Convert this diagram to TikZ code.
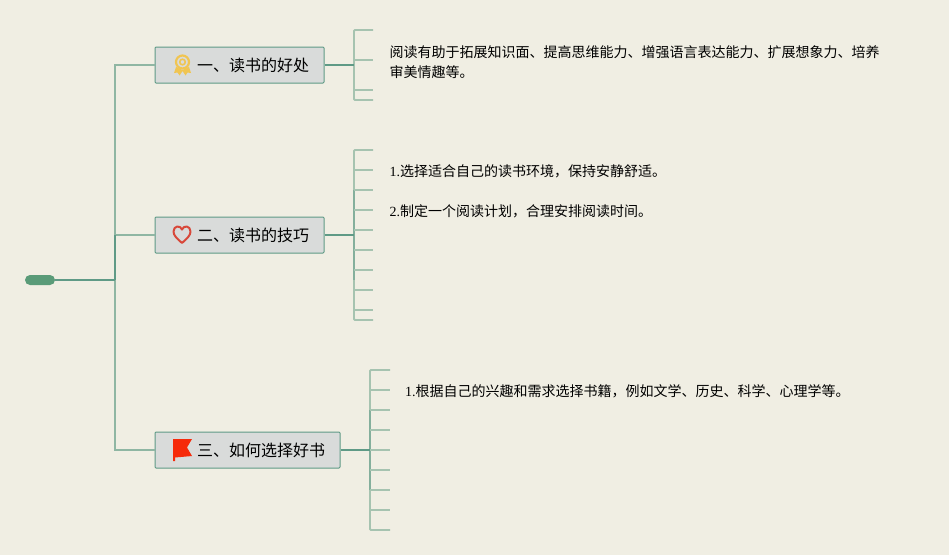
\documentclass[tikz,border=0pt]{standalone}
\usepackage{fontspec}
\setmainfont{Liberation Serif}
\newfontfamily\cjk{Noto Sans CJK SC}
\definecolor{paper}{HTML}{F0EEE3}
\definecolor{rootgreen}{HTML}{5A9B78}
\definecolor{linedark}{HTML}{5F9A86}
\definecolor{linemid}{HTML}{84AF9C}
\definecolor{linelight}{HTML}{A6C3B0}
\definecolor{trunkgreen}{HTML}{8FB6A3}
\definecolor{topicfill}{HTML}{D9DBDA}
\definecolor{medal}{HTML}{F0C552}
\definecolor{heart}{HTML}{D8483A}
\definecolor{flag}{HTML}{F62A0A}
\tikzset{
  topicbox/.style={draw=linedark,line width=1pt,fill=topicfill,rounded corners=1pt,minimum height=36pt,inner xsep=15pt,align=right,font=\fontsize{16}{20}\selectfont\cjk},
  notetext/.style={anchor=west,inner sep=0pt,align=left,font=\fontsize{14}{20}\selectfont\cjk},
  tick/.style={draw=linelight,line width=1.8pt},
  spine/.style={draw=linemid,line width=1.8pt},
  link/.style={draw=linedark,line width=2.2pt},
  trunkline/.style={draw=trunkgreen,line width=1.7pt}
}
\begin{document}
\begin{tikzpicture}[x=1pt,y=-1pt]
  \fill[paper] (0,0) rectangle (949,555);
  \useasboundingbox (0,0) rectangle (949,555);
  % root and trunk
  \node[fill=rootgreen,rounded corners=5pt,minimum width=30pt,minimum height=10pt,inner sep=0pt] (root) at (40,280) {};
  \coordinate (trunk) at (115,280);
  % topics
  \node[topicbox,text width=139pt] (topicA) at (239.5,65) {一、读书的好处};
  \node[topicbox,text width=139pt] (topicB) at (239.5,235) {二、读书的技巧};
  \node[topicbox,text width=155pt] (topicC) at (247.5,450) {三、如何选择好书};
  \draw[trunkline] (trunk) |- (topicA.west);
  \draw[trunkline] (trunk) |- (topicB.west);
  \draw[trunkline] (trunk) |- (topicC.west);
  \draw[linedark,line width=1.8pt] (115,235) -- (trunk);
  \draw[draw=linedark,line width=2pt] (root.east) -- (trunk);
  % first branch
  \coordinate (forkA) at (354,65);
  \draw[spine,linelight,rounded corners=1pt] (373,30) -- (354,30) -- (354,100) -- (373,100);
  \foreach \y in {60,90} \draw[tick] (354,\y) -- (373,\y);
  \draw[link] (topicA.east) -- (forkA);
  % second branch
  \coordinate (forkB) at (354,235);
  \draw[spine,linelight,rounded corners=1pt] (373,150) -- (354,150) -- (354,320) -- (373,320);
  \draw[spine] (354,190) -- (354,280);
  \foreach \y in {170,190,...,310} \draw[tick] (354,\y) -- (373,\y);
  \draw[link] (topicB.east) -- (forkB);
  % third branch
  \coordinate (forkC) at (370,450);
  \draw[spine,linelight,rounded corners=1pt] (390,370) -- (370,370) -- (370,530) -- (390,530);
  \draw[spine] (370,410) -- (370,490);
  \foreach \y in {390,410,...,510} \draw[tick] (370,\y) -- (390,\y);
  \draw[link] (topicC.east) -- (forkC);
  % notes
  \node[notetext] (noteA) at (389.5,62) {阅读有助于拓展知识面、提高思维能力、增强语言表达能力、扩展想象力、培养\\审美情趣等。};
  \node[notetext] (noteBa) at (389.5,171) {{\rmfamily 1.}选择适合自己的读书环境，保持安静舒适。};
  \node[notetext] (noteBb) at (389.5,211) {{\rmfamily 2.}制定一个阅读计划，合理安排阅读时间。};
  \node[notetext] (noteC) at (405,391) {{\rmfamily 1.}根据自己的兴趣和需求选择书籍，例如文学、历史、科学、心理学等。};
  % icons
  \draw[medal,line width=2.2pt] (182.5,62) circle (6.5);
  \draw[medal,line width=1.6pt] (182.5,62) circle (2.8);
  \fill[medal] (176,67) -- (174,73) -- (177.5,72.5) -- (179.5,75.5) -- (182.5,71) -- (185.5,75.5) -- (187.5,72.5) -- (191,73) -- (189,67) -- (182.5,70) -- cycle;
  \draw[heart,line width=2pt,line join=round] (182,243) .. controls (177,238.5) and (173.5,235.5) .. (173.5,231.5) .. controls (173.5,225.5) and (180.5,225) .. (182,229.5) .. controls (183.5,225) and (190.5,225.5) .. (190.5,231.5) .. controls (190.5,235.5) and (187,238.5) .. (182,243) -- cycle;
  \fill[flag] (173,439) -- (192,439) -- (187,447.5) -- (192,456) -- (175,457.5) -- (175,461) -- (173,461) -- cycle;
\end{tikzpicture}
\end{document}
